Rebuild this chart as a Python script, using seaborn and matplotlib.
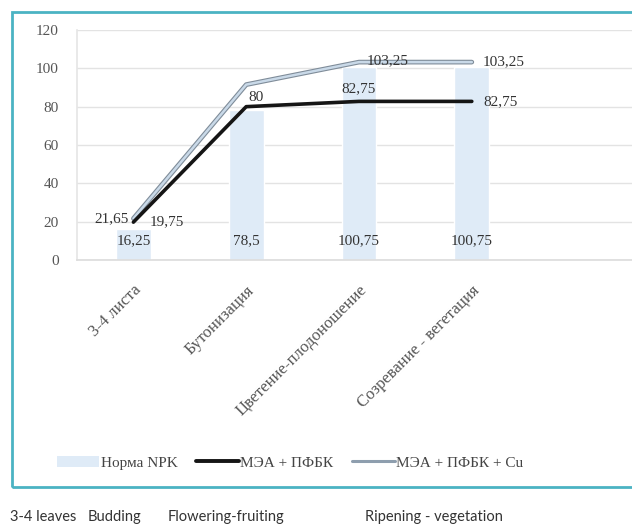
import matplotlib
matplotlib.use("Agg")
import matplotlib.pyplot as plt
from matplotlib.patches import Rectangle, Patch
from matplotlib.lines import Line2D
import numpy as np
import pandas as pd
import seaborn as sns

# Growth phases and measured values
categories = ["3-4 листа", "Бутонизация", "Цветение-плодоношение", "Созревание - вегетация"]
captions = ["3-4 leaves", "Budding", "Flowering-fruiting", "Ripening - vegetation"]
norm_npk = [16.25, 78.5, 100.75, 100.75]
mea_pfbk = [19.75, 80.0, 82.75, 82.75]
mea_pfbk_cu = [21.65, 91.5, 103.25, 103.25]
yticks = [0, 20, 40, 60, 80, 100, 120]

series_names = ["Норма NPK", "МЭА + ПФБК", "МЭА + ПФБК + Cu"]

sns.set_theme(style="white")
plt.rcParams["font.family"] = ["Liberation Serif", "DejaVu Serif"]

fig = plt.figure(figsize=(6.32, 5.27), dpi=100)
ax = fig.add_axes([77 / 632, (527 - 260) / 527, (632 - 77) / 632, 230 / 527])

pos = np.arange(len(categories))
df = pd.DataFrame({"pos": pos, "cat": categories,
                   "npk": norm_npk, "mea": mea_pfbk, "cu": mea_pfbk_cu})

bar_color = "#dfebf7"
sns.barplot(data=df, x="pos", y="npk", color=bar_color, width=0.31,
            saturation=1, ax=ax, native_scale=True, zorder=2)

sns.lineplot(data=df, x="pos", y="cu", color="#7f8c99", linewidth=3.4, ax=ax,
             zorder=3)
sns.lineplot(data=df, x="pos", y="cu", color="#c9d9e8", linewidth=1.8, ax=ax,
             zorder=3.1)
sns.lineplot(data=df, x="pos", y="mea", color="#151515", linewidth=2.6, ax=ax,
             zorder=4)

ax.set_ylim(0, 120)
ax.set_xlim(-0.5, 4.42)
ax.set_yticks(yticks)
ax.set_yticklabels([str(t) for t in yticks], fontsize=11, color="#555555")
ax.set_xticks(pos)
ax.set_xticklabels(categories, rotation=45, ha="right", rotation_mode="anchor",
                   fontsize=12, color="#555555")
ax.tick_params(axis="x", length=0, pad=16)
ax.tick_params(axis="y", length=0, pad=13)
ax.set_xlabel("")
ax.set_ylabel("")
ax.grid(axis="y", color="#e3e3e3", linewidth=1, zorder=0)
ax.set_axisbelow(True)
for side in ["top", "right"]:
    ax.spines[side].set_visible(False)
ax.spines["left"].set_color("#e6e6e6")
ax.spines["bottom"].set_color("#dddddd")

lbl = dict(fontsize=11, color="#333333", zorder=6)
fmt = lambda v: (f"{v:g}").replace(".", ",")

# bar value labels near the base of each bar
for x, v in zip(pos, norm_npk):
    ax.text(x, 10, fmt(v), ha="center", va="center", **lbl)

# black series labels
ax.text(0.14, mea_pfbk[0], fmt(mea_pfbk[0]), ha="left", va="center", **lbl)
ax.text(1.02, mea_pfbk[1] + 1.5, fmt(mea_pfbk[1]), ha="left", va="bottom", **lbl)
ax.text(2.0, mea_pfbk[2] + 3, fmt(mea_pfbk[2]), ha="center", va="bottom", **lbl)
ax.text(3.1, mea_pfbk[3], fmt(mea_pfbk[3]), ha="left", va="center", **lbl)

# grey series labels
ax.text(-0.04, mea_pfbk_cu[0], fmt(mea_pfbk_cu[0]), ha="right", va="center", **lbl)
ax.text(2.25, mea_pfbk_cu[2] + 1, fmt(mea_pfbk_cu[2]), ha="center", va="center", **lbl)
ax.text(3.1, mea_pfbk_cu[3], fmt(mea_pfbk_cu[3]), ha="left", va="center", **lbl)

handles = [
    Patch(facecolor=bar_color, edgecolor="none"),
    Line2D([], [], color="#151515", linewidth=2.8),
    Line2D([], [], color="#8e9eae", linewidth=2.2),
]
fig.legend(handles, series_names, loc="center", bbox_to_anchor=(290 / 632, 1 - 463 / 527),
           ncol=3, frameon=False, fontsize=11, handlelength=2.8,
           handletextpad=0.1, columnspacing=1.2, labelcolor="#444444")

# teal frame around the chart
fig.patches.append(Rectangle((11.5 / 632, (527 - 487) / 527), 0.99, (487 - 12) / 527,
                             transform=fig.transFigure, fill=False,
                             edgecolor="#4bb3c3", linewidth=2, clip_on=False))

# translated phase names beneath the frame
cap_x = [10, 88, 168, 365]
for x, t in zip(cap_x, captions):
    fig.text(x / 632, 1 - 517 / 527, t, ha="left", va="center", fontsize=10.5,
             color="#333333", family=["Lato", "DejaVu Sans"])

fig.savefig("out.png", dpi=100)
